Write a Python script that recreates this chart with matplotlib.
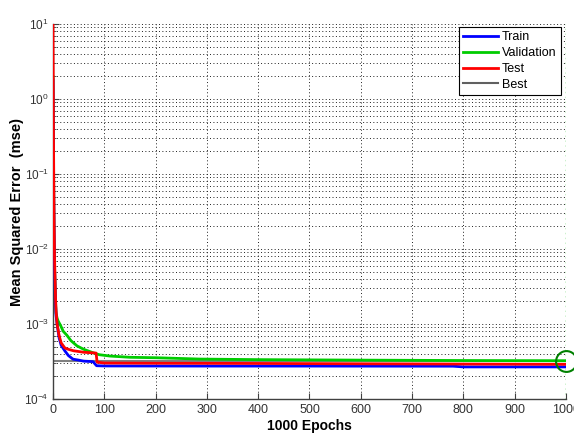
import matplotlib
matplotlib.use("Agg")
import matplotlib.pyplot as plt
from matplotlib.ticker import LogLocator, FixedLocator, NullFormatter

plt.rcParams['font.family'] = ['Liberation Sans', 'DejaVu Sans']
plt.rcParams['mathtext.fontset'] = 'custom'
plt.rcParams['mathtext.rm'] = 'Liberation Sans'

# Data
train_ep = [0, 1, 2, 3, 4, 5, 6, 8, 12, 16, 23, 30, 39, 50, 60, 78, 85, 100, 300, 500, 780, 800, 1000]
train_mse = [1.8, 0.12, 0.02, 0.006, 0.003, 0.0018, 0.0013, 0.001, 0.00065, 0.00052, 0.00044, 0.00038, 0.00034, 0.00033, 0.00032, 0.000315, 0.000278, 0.000276, 0.000275, 0.000275, 0.000274, 0.000268, 0.000268]

val_ep = [0, 1, 2, 3, 4, 5, 6, 8, 10, 15, 20, 27, 35, 47, 60, 78, 90, 111, 150, 202, 286, 400, 600, 800, 1000]
val_mse = [2.0, 0.15, 0.015, 0.006, 0.0035, 0.002, 0.0014, 0.0012, 0.0011, 0.00095, 0.0008, 0.00071, 0.0006, 0.00051, 0.00046, 0.000414, 0.00039, 0.000374, 0.00036, 0.000355, 0.000341, 0.000335, 0.00033, 0.000326, 0.000324]

test_ep = [0, 1, 2, 3, 4, 5, 6, 8, 12, 16, 23, 30, 40, 60, 84, 86, 100, 200, 400, 600, 1000]
test_mse = [12.0, 0.3, 0.03, 0.008, 0.004, 0.0022, 0.0015, 0.001, 0.0007, 0.00056, 0.00048, 0.00046, 0.00044, 0.00042, 0.00041, 0.00031, 0.000302, 0.0003, 0.000298, 0.000295, 0.00029]

best_epoch = 1000
best_val = 0.000324

fig = plt.figure(figsize=(5.74, 4.34), dpi=100)
ax = fig.add_axes([0.0923, 0.0806, 0.8937, 0.8641])

grey_axis = '#404040'
dots = (0, (1, 2.5))

ax.set_yscale('log')
# Best lines
ax.axhline(best_val, color='#808080', lw=1.5, zorder=2)
ax.axvline(best_epoch, color='#00bb00', lw=1.0, ls=dots, zorder=2)

ax.plot(train_ep, train_mse, color='#0000ff', lw=2, label='Train', zorder=4)
ax.plot(val_ep, val_mse, color='#00cc00', lw=2, label='Validation', zorder=3)
ax.plot(test_ep, test_mse, color='#ff0000', lw=2, label='Test', zorder=5)
ax.plot([], [], color='#606060', lw=1.5, label='Best')

ax.plot([best_epoch], [best_val], marker='o', ms=15, mfc='none', mec='#008000', mew=1.5,
        clip_on=False, zorder=6)

ax.set_xlim(0, 1000)
ax.set_ylim(1e-4, 1e1)

ax.xaxis.set_major_locator(FixedLocator(list(range(0, 1001, 100))))
ax.yaxis.set_major_locator(LogLocator(base=10, numticks=10))
ax.yaxis.set_minor_locator(LogLocator(base=10, subs=range(2, 10), numticks=20))
ax.yaxis.set_minor_formatter(NullFormatter())

ax.grid(True, which='major', axis='both', ls=dots, color='#202020', lw=0.7)
ax.grid(True, which='minor', axis='y', ls=dots, color='#202020', lw=0.7)

ax.tick_params(axis='both', which='both', direction='in', colors=grey_axis,
               labelsize=9, labelcolor='#333333')
ax.tick_params(axis='y', which='major', labelsize=8.5, pad=3)
ax.tick_params(axis='both', which='major', length=4)
ax.tick_params(axis='y', which='minor', length=2)
ax.tick_params(top=False, right=False)

for s in ['top', 'right']:
    ax.spines[s].set_visible(False)
for s in ['left', 'bottom']:
    ax.spines[s].set_color(grey_axis)
    ax.spines[s].set_linewidth(1.0)

ax.set_xlabel('1000 Epochs', fontsize=10, fontweight='bold', labelpad=2)
ax.set_ylabel('Mean Squared Error  (mse)', fontsize=10.5, fontweight='bold')
ax.yaxis.set_label_coords(-0.056, 0.5)

leg = ax.legend(loc='upper right', bbox_to_anchor=(0.99, 0.992), fontsize=9,
                fancybox=False, framealpha=1, edgecolor='black',
                handlelength=2.8, handletextpad=0.3, borderpad=0.35, labelspacing=0.3,
                borderaxespad=0)
leg.get_frame().set_linewidth(0.8)

fig.savefig('out.png', dpi=100)
